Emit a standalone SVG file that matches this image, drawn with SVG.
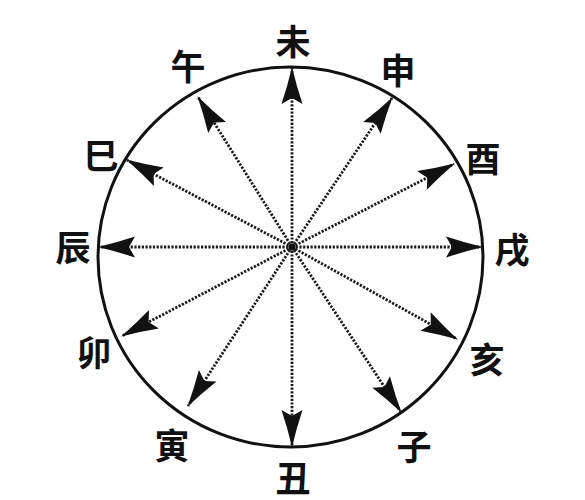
<svg xmlns="http://www.w3.org/2000/svg" width="585" height="500" viewBox="0 0 585 500">
<style>
.lbl{font-family:"Noto Sans CJK SC","Noto Sans CJK TC",sans-serif;font-size:35px;font-weight:700;fill:#111;text-anchor:middle;dominant-baseline:central}
.ray{stroke:#1a1a1a;stroke-width:2.8;stroke-dasharray:2.2 1.5;fill:none;marker-end:url(#dart)}
</style>
<defs>
<marker id="dart" markerUnits="userSpaceOnUse" viewBox="-38 -12 40 24" markerWidth="40" markerHeight="24" refX="0" refY="0" orient="auto">
<path d="M1,0 Q-18,-4.5 -36,-10.5 L-30,0 L-36,10.5 Q-18,4.5 1,0 Z" fill="#111"/>
</marker>
</defs>
<rect width="585" height="500" fill="#fff"/>
<g id="circle">
<ellipse cx="290.5" cy="257" rx="192.5" ry="190" fill="none" stroke="#111" stroke-width="3"/>
</g>
<g id="connectors">
<line class="ray" x1="292" y1="247" x2="292" y2="68"/>
<line class="ray" x1="292" y1="247" x2="392" y2="98"/>
<line class="ray" x1="292" y1="247" x2="454" y2="164"/>
<line class="ray" x1="292" y1="247" x2="482" y2="247"/>
<line class="ray" x1="292" y1="247" x2="457" y2="339"/>
<line class="ray" x1="292" y1="247" x2="401" y2="412"/>
<line class="ray" x1="292" y1="247" x2="292" y2="446"/>
<line class="ray" x1="292" y1="247" x2="188" y2="406"/>
<line class="ray" x1="292" y1="247" x2="122" y2="336"/>
<line class="ray" x1="292" y1="247" x2="99" y2="247"/>
<line class="ray" x1="292" y1="247" x2="127" y2="160"/>
<line class="ray" x1="292" y1="247" x2="198" y2="97"/>
<circle cx="292" cy="247" r="3.5" fill="#111"/>
</g>
<g id="n-wei"><text class="lbl" x="293" y="39">未</text></g>
<g id="n-shen"><text class="lbl" x="398" y="68">申</text></g>
<g id="n-you"><text class="lbl" x="483" y="156">酉</text></g>
<g id="n-xu"><text class="lbl" x="512" y="247">戌</text></g>
<g id="n-hai"><text class="lbl" x="487" y="357">亥</text></g>
<g id="n-zi"><text class="lbl" x="414" y="444">子</text></g>
<g id="n-chou"><text class="lbl" x="293" y="476">丑</text></g>
<g id="n-yin"><text class="lbl" x="172" y="443">寅</text></g>
<g id="n-mao"><text class="lbl" x="94" y="350">卯</text></g>
<g id="n-chen"><text class="lbl" x="73" y="245">辰</text></g>
<g id="n-si"><text class="lbl" x="101" y="153">巳</text></g>
<g id="n-wu"><text class="lbl" x="188" y="64">午</text></g>
</svg>
